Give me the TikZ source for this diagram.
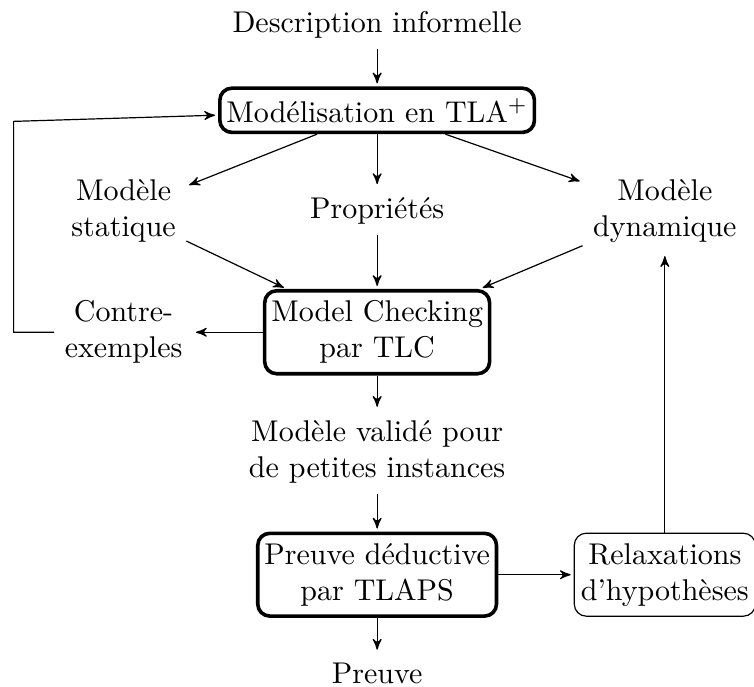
\documentclass[tikz,border=0pt]{standalone}
\usepackage{tikz}
\usetikzlibrary{arrows,positioning}
\usepackage{amsmath}
\usepackage{amssymb}

\begin{document}
\begin{tikzpicture}[>=stealth',shorten >=1pt,auto,node distance=1.4cm,
                    every node/.style={align=center},
                    etape/.style={draw,very thick,rounded corners,inner xsep=2.2pt},
                    relax/.style={draw,rounded corners,inner xsep=2.2pt}]
                  \useasboundingbox (-125.7pt,8.3pt) rectangle (125.6pt,-220.4pt);
                  \node                (desc)  []                                     {Description informelle};
                  \node[etape]         (mod)   [below of=desc, node distance=1cm]     {Mod\'elisation en TLA$^+$};
                  \node                (prop)  [below of=mod, node distance=1.18cm]   {Propri\'et\'es};
                  \node                (stat)  [left of=prop, node distance=2.97cm]   {Mod\`ele\\statique};
                  \node                (dyn)   [right of=prop, node distance=3.37cm]  {Mod\`ele\\dynamique};
                  \node[etape]         (tlc)   [below of=prop, node distance=1.42cm]  {Model Checking\\par TLC};
                  \node                (cex)   [left of=tlc, node distance=2.97cm]    {Contre-\\exemples};
                  \node                (valid) [below of=tlc]                         {Mod\`ele valid\'e pour\\de petites instances};
                  \node[etape]         (tlaps) [below of=valid, node distance=1.44cm] {Preuve d\'eductive\\par TLAPS};
                  \node[relax]         (hyp)   [right of=tlaps, node distance=3.37cm] {Relaxations\\d'hypoth\`eses};
                  \node                (fin)   [below of=tlaps, node distance=1.16cm] {Preuve};

                  \coordinate (coin) at ([xshift=-4.75mm]cex.west);
                  \coordinate (haut) at ([yshift=-1.3mm]mod.west);

                      \draw[->]
                               (desc) edge (mod)
                               (mod)  edge (stat)
                                      edge (prop)
                                      edge (dyn)
                               (stat) edge (tlc)
                               (prop) edge (tlc)
                               (dyn)  edge (tlc)
                               (tlc)  edge (cex)
                                      edge (valid)
                               (valid) edge (tlaps)
                               (tlaps) edge (fin)
                                       edge (hyp)
                               (hyp)  edge (dyn);
                      \draw[->] (cex.west) -- (coin) -- (coin |- haut) -- (mod);
        \end{tikzpicture}
\end{document}
